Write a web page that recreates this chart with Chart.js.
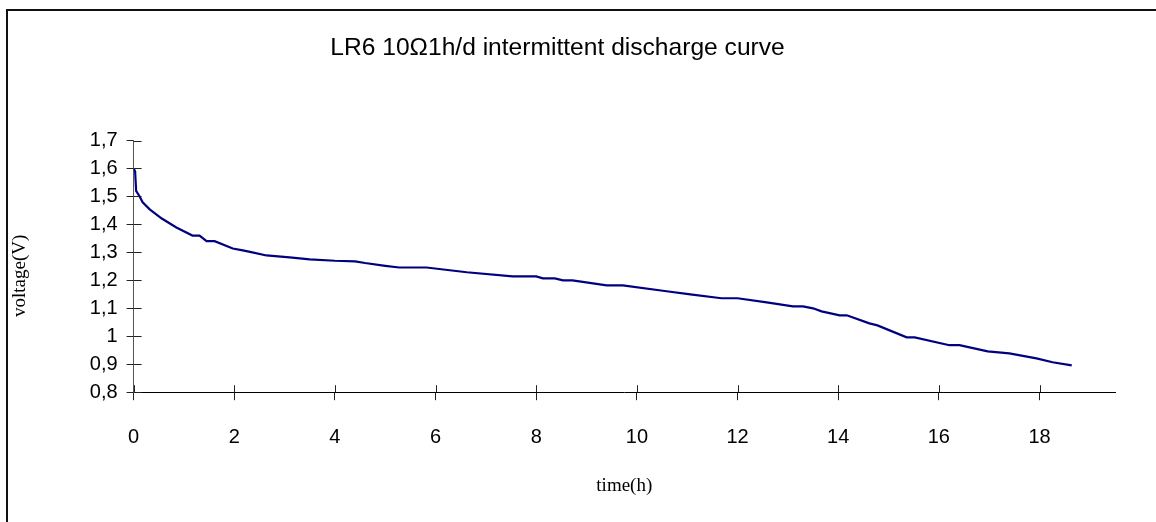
<!DOCTYPE html>
<html>
<head>
<meta charset="utf-8">
<script src="https://cdn.jsdelivr.net/npm/chart.js@4/dist/chart.umd.min.js"></script>
<style>
  html, body { margin: 0; padding: 0; background: #fff; }
  body { width: 1156px; height: 522px; position: relative; overflow: hidden; }
  #frame { position: absolute; left: 6px; top: 9px; width: 1200px; height: 600px;
           border-left: 2px solid #111; border-top: 2px solid #111; }
  #wrap { position: absolute; left: 0; top: 0; width: 1156px; height: 522px; }
</style>
</head>
<body>
<div id="frame"></div>
<div id="wrap"><canvas id="dischargeChart"></canvas></div>
<script>
  // discharge data
  var timeH = [0, 0.03, 0.05, 0.12, 0.18, 0.32, 0.56, 0.85, 1.17, 1.31, 1.45, 1.61, 1.97, 2.17, 2.36, 2.64,
    3.1, 3.5, 4.0, 4.4, 4.6, 5.0, 5.28, 5.82, 6.62, 7.53, 8.0, 8.13, 8.37, 8.53, 8.72, 9.4, 9.72,
    10.59, 11.1, 11.68, 12.0, 12.58, 13.1, 13.3, 13.5, 13.67, 14.03, 14.17, 14.62, 14.78, 15.36,
    15.52, 16.21, 16.41, 16.97, 17.4, 17.94, 18.26, 18.64];
  var voltage = [1.6, 1.59, 1.52, 1.5, 1.479, 1.454, 1.421, 1.389, 1.36, 1.36, 1.34, 1.34, 1.314, 1.307, 1.3, 1.289,
    1.282, 1.275, 1.27, 1.268, 1.262, 1.252, 1.246, 1.246, 1.229, 1.214, 1.214, 1.207, 1.207, 1.2, 1.2, 1.182, 1.182,
    1.161, 1.149, 1.136, 1.136, 1.121, 1.107, 1.107, 1.1, 1.089, 1.075, 1.075, 1.046, 1.039, 0.996,
    0.996, 0.968, 0.968, 0.946, 0.939, 0.921, 0.907, 0.896];

  // axis ticks
  var xTicks = [0, 2, 4, 6, 8, 10, 12, 14, 16, 18];
  var yTicks = [0.8, 0.9, 1.0, 1.1, 1.2, 1.3, 1.4, 1.5, 1.6, 1.7];
  var yTickLabels = ['0,8', '0,9', '1', '1,1', '1,2', '1,3', '1,4', '1,5', '1,6', '1,7'];

  var points = timeH.map(function (t, i) { return { x: t, y: voltage[i] }; });

  // draws the inner half of the tick marks so they cross the axis
  var crossTicks = {
    id: 'crossTicks',
    afterDraw: function (chart) {
      var ctx = chart.ctx;
      var xs = chart.scales.x, ys = chart.scales.y;
      ctx.save();
      ctx.strokeStyle = '#222';
      ctx.lineWidth = 1;
      ctx.beginPath();
      xTicks.forEach(function (v) {
        var px = Math.round(xs.getPixelForValue(v)) + 0.5;
        ctx.moveTo(px, ys.bottom);
        ctx.lineTo(px, ys.bottom - 7);
      });
      yTicks.forEach(function (v) {
        var py = Math.round(ys.getPixelForValue(v)) + 0.5;
        ctx.moveTo(xs.left, py);
        ctx.lineTo(xs.left + 8, py);
      });
      ctx.stroke();
      ctx.restore();
    }
  };

  var ctx = document.getElementById('dischargeChart').getContext('2d');
  var dischargeChart = new Chart(ctx, {
    type: 'line',
    data: {
      datasets: [{
        data: points,
        borderColor: '#000080',
        borderWidth: 2.2,
        pointRadius: 0,
        tension: 0,
        fill: false
      }]
    },
    options: {
      responsive: true,
      maintainAspectRatio: false,
      animation: false,
      layout: { padding: { left: 0, right: 41, top: 0, bottom: 0 } },
      plugins: {
        legend: { display: false },
        tooltip: { enabled: false },
        title: {
          display: true,
          text: 'LR6 10\u03A91h/d intermittent discharge curve',
          color: '#000',
          font: { family: 'Liberation Sans, Arial, sans-serif', size: 24.6, weight: 'normal' },
          padding: { top: 33, bottom: 78 }
        }
      },
      scales: {
        x: {
          type: 'linear',
          min: 0,
          max: 19.5,
          afterBuildTicks: function (scale) {
            scale.ticks = xTicks.map(function (v) { return { value: v }; });
          },
          border: { color: '#000', width: 1 },
          grid: { drawOnChartArea: false, tickLength: 8, color: '#222' },
          ticks: {
            color: '#000',
            padding: 25,
            maxRotation: 0,
            autoSkip: false,
            font: { family: 'Liberation Sans, Arial, sans-serif', size: 20 }
          },
          title: {
            display: true,
            text: 'time(h)',
            color: '#000',
            font: { family: 'Liberation Serif, Times New Roman, serif', size: 19 },
            padding: { top: 0, bottom: 25 }
          }
        },
        y: {
          type: 'linear',
          min: 0.8,
          max: 1.7,
          afterBuildTicks: function (scale) {
            scale.ticks = yTicks.map(function (v) { return { value: v }; });
          },
          border: { color: '#555', width: 1 },
          grid: { drawOnChartArea: false, tickLength: 7, color: '#222' },
          ticks: {
            color: '#000',
            padding: 9,
            autoSkip: false,
            font: { family: 'Liberation Sans, Arial, sans-serif', size: 20 },
            callback: function (value, index) { return yTickLabels[index]; }
          },
          title: {
            display: true,
            text: 'voltage(V)    ',
            color: '#000',
            font: { family: 'Liberation Serif, Times New Roman, serif', size: 19 },
            padding: { top: 9, bottom: 49 }
          }
        }
      }
    },
    plugins: [crossTicks]
  });
</script>
</body>
</html>
